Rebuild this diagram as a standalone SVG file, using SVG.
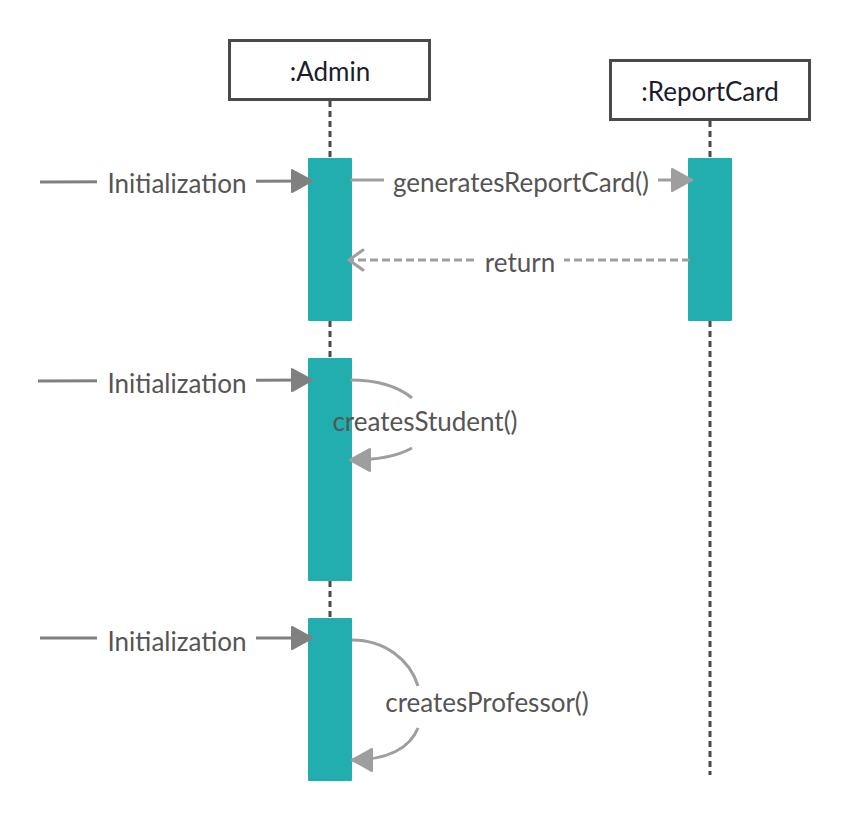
<svg xmlns="http://www.w3.org/2000/svg" width="850" height="820" viewBox="0 0 850 820">
<style>
.box{fill:#fff;stroke:#4a4a4a;stroke-width:3}
.title{font-family:Lato,"Liberation Sans",sans-serif;font-size:26px;fill:#1c1c2e;text-anchor:middle}
.life{stroke:#4a4a4a;stroke-width:3;stroke-dasharray:6,4;fill:none}
.act{fill:#22aeaf}
.lbl{font-family:Lato,"Liberation Sans",sans-serif;font-size:26px;fill:#555;text-anchor:middle}
.init{stroke:#808080;stroke-width:3;fill:none}
.msg{stroke:#9e9e9e;stroke-width:3;fill:none}
.ret{stroke:#9e9e9e;stroke-width:3;fill:none;stroke-dasharray:8,4}
.bg{fill:#fff}
</style>
<defs>
<marker id="ah-init" markerWidth="26" markerHeight="28" refX="22" refY="13" orient="auto" markerUnits="userSpaceOnUse">
<path d="M2,2 L22,13 L2,24 Z" fill="#808080" stroke="#808080" stroke-width="2" stroke-linejoin="round"/>
</marker>
<marker id="ah-msg" markerWidth="26" markerHeight="28" refX="22" refY="13" orient="auto" markerUnits="userSpaceOnUse">
<path d="M2,2 L22,13 L2,24 Z" fill="#9e9e9e" stroke="#9e9e9e" stroke-width="2" stroke-linejoin="round"/>
</marker>
<marker id="ah-open" markerWidth="26" markerHeight="28" refX="18" refY="13" orient="auto" markerUnits="userSpaceOnUse">
<path d="M4,3 L18,13 L4,23" fill="none" stroke="#9e9e9e" stroke-width="3" stroke-linecap="round" stroke-linejoin="round"/>
</marker>
</defs>

<g id="lifelines">
<line class="life" x1="330" y1="101" x2="330" y2="780"/>
<line class="life" x1="710" y1="121" x2="710" y2="775"/>
</g>

<g id="admin">
<rect class="box" x="229.5" y="40.5" width="200" height="59"/>
<text class="title" x="330" y="81">:Admin</text>
</g>
<g id="reportcard">
<rect class="box" x="610.5" y="60.5" width="199" height="59"/>
<text class="title" x="710" y="101">:ReportCard</text>
</g>

<g id="activations">
<rect class="act" x="308" y="158" width="44" height="163" rx="1"/>
<rect class="act" x="688" y="158" width="44" height="163" rx="1"/>
<rect class="act" x="308" y="358" width="44" height="223" rx="1"/>
<rect class="act" x="308" y="618" width="44" height="163" rx="1"/>
</g>

<g id="connectors">
<line class="init" x1="40" y1="182" x2="312" y2="181" marker-end="url(#ah-init)"/>
<rect class="bg" x="97" y="164" width="159" height="38"/>
<text class="lbl" x="177" y="193">Initialization</text>

<line class="init" x1="38" y1="381" x2="312" y2="380" marker-end="url(#ah-init)"/>
<rect class="bg" x="97" y="363" width="159" height="38"/>
<text class="lbl" x="177" y="393">Initialization</text>

<line class="init" x1="40" y1="638" x2="312" y2="638" marker-end="url(#ah-init)"/>
<rect class="bg" x="97" y="620" width="159" height="38"/>
<text class="lbl" x="177" y="651">Initialization</text>

<line class="msg" x1="350" y1="180" x2="692" y2="180" marker-end="url(#ah-msg)"/>
<rect class="bg" x="384" y="162" width="274" height="38"/>
<text class="lbl" x="521" y="192">generatesReportCard()</text>

<line class="ret" x1="690" y1="260" x2="349" y2="260" marker-end="url(#ah-open)"/>
<rect class="bg" x="476" y="242" width="88" height="38"/>
<text class="lbl" x="520" y="272">return</text>

<path class="msg" d="M350,380 C380,380 400,388 412,398"/>
<path class="msg" d="M412,448 C398,456 380,460 350,460" marker-end="url(#ah-msg)"/>
<text class="lbl" x="425" y="431">createsStudent()</text>

<path class="msg" d="M352,640 C385,640 410,660 418,686"/>
<path class="msg" d="M418,728 C410,748 388,760 352,760" marker-end="url(#ah-msg)"/>
<text class="lbl" x="487" y="712">createsProfessor()</text>
</g>
</svg>
